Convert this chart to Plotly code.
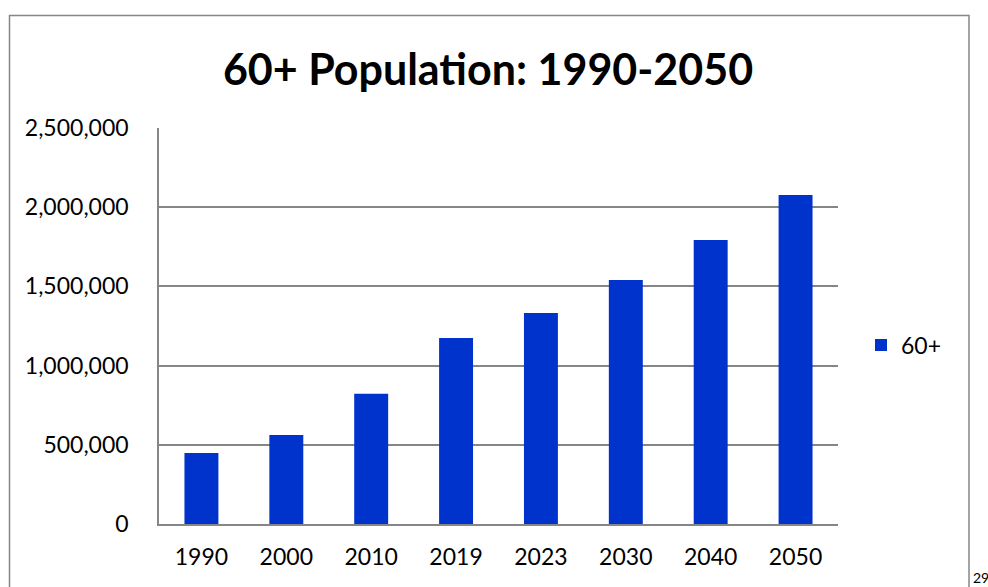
import plotly.graph_objects as go

years = ["1990", "2000", "2010", "2019", "2023", "2030", "2040", "2050"]
pop_60plus = [448000, 562000, 822000, 1175000, 1332000, 1540000, 1793000, 2077000]
y_ticks = [0, 500000, 1000000, 1500000, 2000000, 2500000]
y_tick_text = ["0", "500,000", "1,000,000", "1,500,000", "2,000,000", "2,500,000"]

FONT = "Lato, Calibri, Carlito, sans-serif"
fig = go.Figure()
fig.add_trace(go.Bar(x=years, y=pop_60plus, name="60+", marker_color="#0033CC",
                     marker_line_width=0))

L, R, T, B = 159, 838, 128, 524
W, H = R - L, B - T

def px(x):
    return (x - L) / W

def py(y):
    return (B - y) / H

fig.update_layout(
    width=988, height=587,
    margin=dict(l=L, r=988 - R, t=T, b=587 - B),
    paper_bgcolor="white", plot_bgcolor="white",
    font=dict(family=FONT, color="black", size=23),
    title=dict(text="<b>60+ Population: 1990-2050</b>", x=px(488), xref="paper",
               xanchor="center", y=1 - 70 / 587, yanchor="middle",
               font=dict(size=43, family=FONT, color="black")),
    bargap=0.6,
    showlegend=True,
    legend=dict(x=px(861), y=py(345), xanchor="left", yanchor="middle",
                font=dict(size=23), itemwidth=30, bgcolor="rgba(0,0,0,0)"),
    xaxis=dict(showline=True, linecolor="#868686", linewidth=1.5, ticks="",
               ticklabelstandoff=12, showgrid=False),
    yaxis=dict(range=[0, 2500000], tickvals=y_ticks, ticktext=y_tick_text,
               showline=True, linecolor="#868686", linewidth=1.5, ticks="",
               showgrid=True, gridcolor="#868686", gridwidth=1.5,
               ticklabelstandoff=24, zeroline=False),
    shapes=[dict(type="rect", xref="paper", yref="paper",
                 x0=px(9.5), x1=px(969), y0=py(600), y1=py(15.5),
                 line=dict(color="#868686", width=1.5), layer="below")],
    annotations=[dict(text="29", xref="paper", yref="paper", x=px(971), y=py(577),
                      xanchor="left", yanchor="middle", showarrow=False,
                      font=dict(size=14, family=FONT, color="black"))],
)

fig.write_html("out.html", config={"displayModeBar": False},
               post_script="document.body.style.margin='0';document.body.style.overflow='hidden';")
